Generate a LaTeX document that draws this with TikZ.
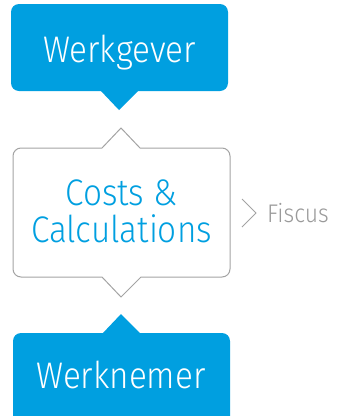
\documentclass[tikz,border=0pt]{standalone}
\usepackage{fontspec}
\newfontfamily\lightsans[FakeStretch=0.9]{Fira Sans Light}
\definecolor{rabo}{HTML}{009FE0}
\definecolor{kader}{HTML}{A3A3A3}
\definecolor{grijs}{HTML}{9A9A9A}
\tikzset{
  label/.style={inner sep=0pt, anchor=base, font=\lightsans\fontsize{37}{37}\selectfont},
  lijn/.style={draw=kader, line width=1pt}
}
\begin{document}
\begin{tikzpicture}[x=1pt,y=-1pt]
\useasboundingbox (0,0) rectangle (339,416);
% werkgever
\fill[rabo, rounded corners=8pt] (11,4) rectangle (228,91) ;
\fill[rabo] (100,90) -- (119,110) -- (139,90) -- cycle ;
\node[label, white] (werkgever) at (119.5,62) {Werkgever} ;
% costs & calculations
\draw[lijn] (230,212) [rounded corners=8pt] -- (230,148) [sharp corners] -- (140,148) -- (121,128) -- (102,148) [rounded corners=8pt] -- (13,148) -- (13,277) [sharp corners] -- (102,277) -- (121,297) -- (141,277) [rounded corners=8pt] -- (230,277) -- cycle ;
\node[label, rabo] (costs) at (121.5,205) {Costs \&} ;
\node[label, rabo] (calc) at (121.5,242) {Calculations} ;
% fiscus
\draw[lijn] (242,199) -- (256,213) -- (242,227) ;
\node[label, grijs, anchor=base west, font=\lightsans\fontsize{25.5}{25.5}\selectfont] (fiscus) at (267,222) {Fiscus} ;
% werknemer
\fill[rabo, rounded corners=8pt] (13,333) rectangle (230,430) ;
\fill[rabo] (102,334) -- (121,314) -- (141,334) -- cycle ;
\node[label, white] (werknemer) at (121,388) {Werknemer} ;
\end{tikzpicture}
\end{document}
